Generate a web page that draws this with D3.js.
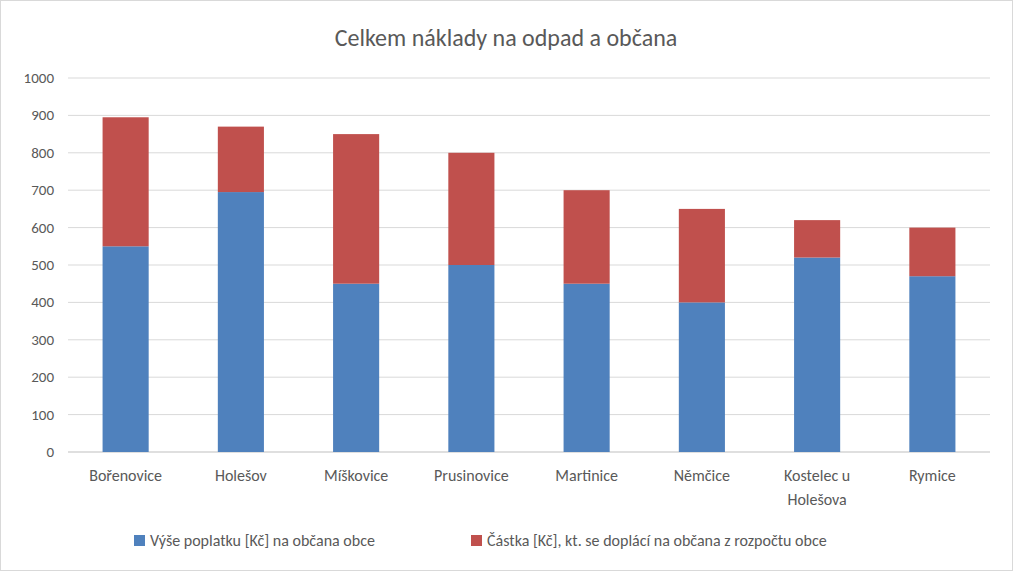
<!DOCTYPE html><html><head><meta charset="utf-8"><script src="https://cdn.jsdelivr.net/npm/d3@7"></script>
<style>body{margin:0;background:#fff}svg{font-family:Calibri,"Liberation Sans","Open Sans",sans-serif}</style></head><body>
<svg id="c" width="1013" height="571"></svg>
<script>
const categories=["Bořenovice","Holešov","Míškovice","Prusinovice","Martinice","Němčice","Kostelec u Holešova","Rymice"];
const poplatek=[550,695,450,500,450,400,520,470];
const doplatek=[345,175,400,300,250,250,100,130];
const seriesNames=["Výše poplatku [Kč] na občana obce","Částka [Kč], kt. se doplácí na občana z rozpočtu obce"];
const colors=["#4f81bd","#c0504d"];
const yTicks=[0,100,200,300,400,500,600,700,800,900,1000];
const svg=d3.select("#c");
svg.append("rect").attr("x",0.5).attr("y",0.5).attr("width",1012).attr("height",570).attr("fill","#fff").attr("stroke","#d9d9d9");
const x=d3.scaleBand().domain(categories).range([68,990]).paddingInner(0.6).paddingOuter(0.3);
const y=d3.scaleLinear().domain([0,1000]).range([452,78]);
svg.append("text").attr("x",506).attr("y",46).attr("text-anchor","middle").attr("font-size",24).attr("fill","#595959").text("Celkem náklady na odpad a občana");
const g=svg.append("g");
yTicks.forEach(t=>{
 g.append("line").attr("x1",68).attr("x2",990).attr("y1",y(t)).attr("y2",y(t)).attr("stroke",t===0?"#bfbfbf":"#d9d9d9");
 g.append("text").attr("x",54).attr("y",y(t)+5).attr("text-anchor","end").attr("font-size",15).attr("fill","#595959").text(t);
});
categories.forEach((c,i)=>{
 g.append("rect").attr("x",x(c)).attr("width",x.bandwidth()).attr("y",y(poplatek[i])).attr("height",y(0)-y(poplatek[i])).attr("fill",colors[0]);
 g.append("rect").attr("x",x(c)).attr("width",x.bandwidth()).attr("y",y(poplatek[i]+doplatek[i])).attr("height",y(poplatek[i])-y(poplatek[i]+doplatek[i])).attr("fill",colors[1]);
 const parts=c==="Kostelec u Holešova"?["Kostelec u","Holešova"]:[c];
 parts.forEach((p,k)=>g.append("text").attr("x",x(c)+x.bandwidth()/2).attr("y",481+k*24).attr("text-anchor","middle").attr("font-size",16).attr("fill","#595959").text(p));
});
const lg=[[134,seriesNames[0]],[471,seriesNames[1]]];
lg.forEach(([lx,t],i)=>{
 svg.append("rect").attr("x",lx).attr("y",535).attr("width",11).attr("height",11).attr("fill",colors[i]);
 svg.append("text").attr("x",lx+16).attr("y",546).attr("font-size",16).attr("fill","#595959").text(t);
});
</script></body></html>
